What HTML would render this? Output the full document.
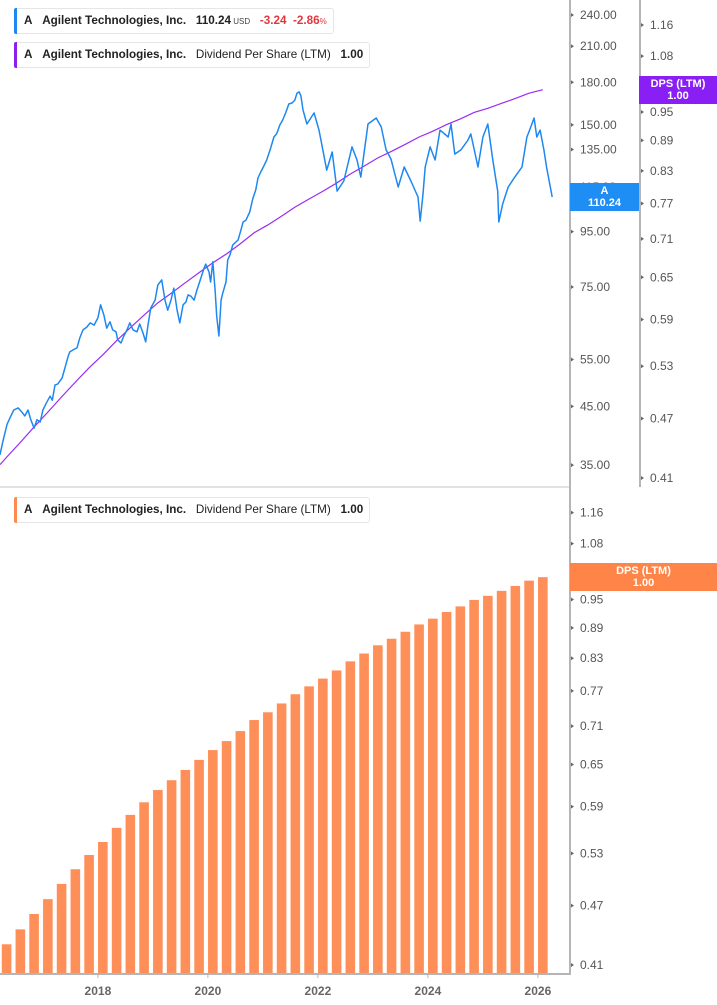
<!DOCTYPE html>
<html><head><meta charset="utf-8"><style>
html,body{margin:0;padding:0;background:#fff;}
body{width:717px;height:1005px;position:relative;overflow:hidden;font-family:"Liberation Sans",sans-serif;}
svg{position:absolute;left:0;top:0;}
.leg{position:absolute;left:14px;height:24px;background:#fff;border:1px solid #e6e6e6;border-radius:3px;font-size:11.7px;line-height:24px;color:#222;white-space:nowrap;padding:0 6px 0 9px;}
.leg .bar{position:absolute;left:-1px;top:-1px;width:3px;height:26px;border-radius:2px 0 0 2px;}
.b{font-weight:bold;}
.tag{position:absolute;color:#fff;font-weight:bold;font-size:11px;line-height:12px;text-align:center;padding-top:2px;box-sizing:border-box;}
</style></head><body>
<svg id="chart" width="717" height="1005"></svg>

<div class="leg" style="top:8px;"><span class="bar" style="background:#1e88f0"></span><span class="b">A</span>&nbsp;&nbsp; <span class="b">Agilent Technologies, Inc.</span>&nbsp;&nbsp; <span class="b">110.24</span><span style="font-size:8px;color:#444"> USD</span>&nbsp;&nbsp; <span class="b" style="color:#e0383e">-3.24</span>&nbsp; <span class="b" style="color:#e0383e">-2.86</span><span style="font-size:8px;color:#e0383e">%</span></div>
<div class="leg" style="top:42px;"><span class="bar" style="background:#8a1ff0"></span><span class="b">A</span>&nbsp;&nbsp; <span class="b">Agilent Technologies, Inc.</span>&nbsp;&nbsp; Dividend Per Share (LTM)&nbsp;&nbsp; <span class="b">1.00</span></div>
<div class="leg" style="top:497px;"><span class="bar" style="background:#ff8a4f"></span><span class="b">A</span>&nbsp;&nbsp; <span class="b">Agilent Technologies, Inc.</span>&nbsp;&nbsp; Dividend Per Share (LTM)&nbsp;&nbsp; <span class="b">1.00</span></div>

<div class="tag" style="left:570px;top:183px;width:69px;height:28px;background:#1e8ef5;">A<br>110.24</div>
<div class="tag" style="left:639px;top:76px;width:78px;height:28px;background:#8a1ff5;">DPS (LTM)<br>1.00</div>
<div class="tag" style="left:570px;top:563px;width:147px;height:28px;background:#ff8447;">DPS (LTM)<br>1.00</div>

<script>
const priceDates=[2016.22,2016.27,2016.35,2016.40,2016.47,2016.55,2016.62,2016.67,2016.73,2016.78,2016.84,2016.89,2016.95,2017.00,2017.06,2017.13,2017.17,2017.22,2017.27,2017.35,2017.40,2017.46,2017.49,2017.55,2017.62,2017.67,2017.73,2017.80,2017.86,2017.93,2018.00,2018.05,2018.11,2018.16,2018.22,2018.27,2018.33,2018.36,2018.42,2018.47,2018.53,2018.58,2018.64,2018.71,2018.76,2018.82,2018.87,2018.91,2018.96,2019.04,2019.09,2019.16,2019.22,2019.27,2019.33,2019.38,2019.44,2019.49,2019.55,2019.60,2019.64,2019.69,2019.75,2019.80,2019.85,2019.93,2019.96,2020.02,2020.05,2020.09,2020.13,2020.16,2020.20,2020.24,2020.27,2020.33,2020.36,2020.40,2020.45,2020.51,2020.55,2020.60,2020.64,2020.69,2020.76,2020.82,2020.87,2020.91,2020.96,2021.00,2021.07,2021.13,2021.20,2021.25,2021.31,2021.36,2021.42,2021.47,2021.53,2021.58,2021.62,2021.66,2021.69,2021.73,2021.80,2021.93,2022.02,2022.07,2022.16,2022.26,2022.35,2022.47,2022.62,2022.71,2022.78,2022.91,2023.06,2023.15,2023.24,2023.33,2023.46,2023.57,2023.69,2023.82,2023.86,2023.91,2023.95,2024.04,2024.13,2024.22,2024.37,2024.42,2024.49,2024.60,2024.73,2024.78,2024.91,2025.00,2025.09,2025.18,2025.27,2025.29,2025.36,2025.46,2025.58,2025.71,2025.80,2025.85,2025.93,2025.98,2026.04,2026.11,2026.16,2026.26];
const prices=[36.6,38.6,41.7,42.8,44.3,44.7,43.9,43.2,44.3,42.5,41.0,42.5,42.1,44.3,45.6,47.0,46.2,49.3,49.5,50.8,53.0,55.8,56.8,57.3,57.8,60.3,62.4,63.2,64.3,63.7,65.7,69.5,66.5,62.9,64.6,62.4,61.9,59.8,59.0,60.8,62.4,64.3,62.4,61.9,64.0,61.6,59.3,63.7,68.5,70.9,75.6,77.3,70.9,67.9,70.9,74.6,67.9,64.3,69.5,70.3,72.5,72.1,70.9,74.0,76.6,81.3,82.7,80.0,76.6,83.5,74.0,66.2,60.8,70.9,73.0,76.6,84.2,85.9,89.7,90.9,91.7,95.6,99.0,99.8,103.3,109.7,113.5,119.5,122.6,124.8,129.1,134.8,142.4,144.3,150.0,153.2,158.5,164.0,164.7,166.8,171.8,172.7,169.8,159.9,150.6,157.9,146.7,138.2,123.6,133.6,113.0,118.0,136.5,129.1,120.0,150.6,154.5,148.7,134.8,129.6,115.0,125.3,118.0,110.2,99.4,111.6,125.3,136.5,129.1,146.7,142.4,150.6,132.4,134.8,140.6,144.3,125.3,142.4,150.6,129.1,113.0,99.0,107.0,115.0,120.0,125.3,142.4,146.7,154.5,142.4,146.7,134.8,124.8,110.2];
const dpsQuarters=["2016Q2","2016Q3","2016Q4","2017Q1","2017Q2","2017Q3","2017Q4","2018Q1","2018Q2","2018Q3","2018Q4","2019Q1","2019Q2","2019Q3","2019Q4","2020Q1","2020Q2","2020Q3","2020Q4","2021Q1","2021Q2","2021Q3","2021Q4","2022Q1","2022Q2","2022Q3","2022Q4","2023Q1","2023Q2","2023Q3","2023Q4","2024Q1","2024Q2","2024Q3","2024Q4","2025Q1","2025Q2","2025Q3","2025Q4","2026Q1"];
const dpsValues=[0.430,0.445,0.461,0.477,0.494,0.511,0.528,0.544,0.562,0.579,0.596,0.613,0.627,0.642,0.657,0.672,0.686,0.702,0.720,0.733,0.748,0.764,0.778,0.792,0.807,0.824,0.839,0.855,0.868,0.882,0.897,0.909,0.923,0.935,0.949,0.958,0.969,0.980,0.992,1.000];
const priceTicks=["240.00","210.00","180.00","150.00","135.00","115.00","95.00","75.00","55.00","45.00","35.00"];
const dpsTicks=["1.16","1.08","1.00","0.95","0.89","0.83","0.77","0.71","0.65","0.59","0.53","0.47","0.41"];
const yearTicks=["2018","2020","2022","2024","2026"];

const svg=document.getElementById('chart');
const NS='http://www.w3.org/2000/svg';
function mk(tag,attrs){const e=document.createElementNS(NS,tag);for(const k in attrs)e.setAttribute(k,attrs[k]);svg.appendChild(e);return e;}
const xOf=t=>(t-2016.22)*55;
const yPrice=v=>15+233.8*Math.log(240/v);
const yDpsTop=v=>25+435.6*Math.log(1.16/v);
const yDpsBot=v=>965-435*Math.log(v/0.41);
const qDate=q=>parseInt(q)+ (parseInt(q.slice(5))-1)*0.25+0.09;

let l;
l=mk('line',{x1:0,y1:487,x2:570,y2:487,stroke:'#e2e2e2','stroke-width':2});


l=mk('line',{x1:570,y1:0,x2:570,y2:975,stroke:'#b5b5b5','stroke-width':2});


l=mk('line',{x1:640,y1:0,x2:640,y2:487,stroke:'#b5b5b5','stroke-width':2});


l=mk('line',{x1:0,y1:974,x2:571,y2:974,stroke:'#b5b5b5','stroke-width':2});



function tick(x,y,label,name){
  const p=mk('path',{d:`M${x} ${y-2}L${x+3} ${y}L${x} ${y+2}Z`,fill:'#666'});
  
  
  const t=mk('text',{x:x+9,y:y+4,'font-size':12,fill:'#555','font-family':'Liberation Sans, sans-serif'});
  t.textContent=label;
  
  
}
priceTicks.forEach(s=>tick(571,yPrice(parseFloat(s)),s,'price-tick-label'));
dpsTicks.forEach(s=>tick(641,yDpsTop(parseFloat(s)),s,'dps-top-tick-label'));
dpsTicks.forEach(s=>tick(571,yDpsBot(parseFloat(s)),s,'dps-bottom-tick-label'));
yearTicks.forEach(s=>{
  const x=xOf(parseInt(s));
  const m=mk('line',{x1:x,y1:974,x2:x,y2:978,stroke:'#b5b5b5','stroke-width':1});
  
  
  const t=mk('text',{x:x,y:995,'font-size':12,'font-weight':'bold',fill:'#666','text-anchor':'middle','font-family':'Liberation Sans, sans-serif'});
  t.textContent=s;
  
  
});

dpsQuarters.forEach((q,i)=>{
  const x=xOf(qDate(q)), y=yDpsBot(dpsValues[i]);
  const r=mk('rect',{x:x-4.8,y:y,width:9.6,height:973-y,fill:'#ff8f59'});
  
  
});

const d0=dpsValues[0]-(dpsValues[1]-dpsValues[0])*(qDate(dpsQuarters[0])-2016.22)/0.25;
let pts=[[0,yDpsTop(d0)]].concat(dpsQuarters.map((q,i)=>[xOf(qDate(q)),yDpsTop(dpsValues[i])]));
l=mk('polyline',{points:pts.map(p=>p.join(',')).join(' '),fill:'none',stroke:'#9a2cf2','stroke-width':1.2});



pts=priceDates.map((d,i)=>[xOf(d).toFixed(1),yPrice(prices[i]).toFixed(1)]);
l=mk('polyline',{points:pts.map(p=>p.join(',')).join(' '),fill:'none',stroke:'#1e88f0','stroke-width':1.5,'stroke-linejoin':'round'});


</script>
</body></html>
